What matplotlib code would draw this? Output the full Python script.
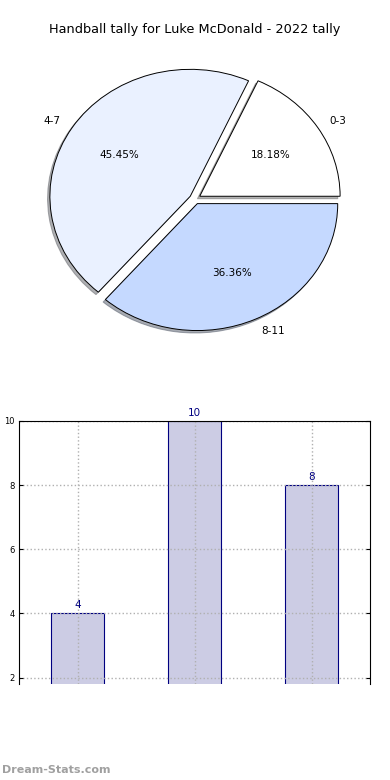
import matplotlib
matplotlib.use("Agg")
import matplotlib.pyplot as plt

pie_labels = ["0-3", "4-7", "8-11"]
pie_values = [2, 5, 4]
pie_colors = ["#ffffff", "#eaf1ff", "#c5d9ff"]

bar_categories = ["0-3", "4-7", "8-11"]
bar_values = [4, 10, 8]
yticks = [2, 4, 6, 8, 10]

W, H = 390, 780
fig = plt.figure(figsize=(W / 100, H / 100), dpi=100)

def ax_rect(x0, y0, x1, y1):
    return [x0 / W, 1 - y1 / H, (x1 - x0) / W, (y1 - y0) / H]

fig.text(0.5, 1 - 30 / H, "Handball tally for Luke McDonald - 2022 tally",
         ha="center", va="center", fontsize=9.3)

axp = fig.add_axes(ax_rect(49, 67, 341, 331))
wedges, texts, autotexts = axp.pie(
    pie_values, labels=pie_labels, colors=pie_colors, explode=[0.04, 0.04, 0.04],
    autopct="%.2f%%", shadow={"ox": -0.012, "oy": -0.014, "shade": 0.6}, startangle=0,
    wedgeprops=dict(edgecolor="black", linewidth=0.7),
    textprops=dict(fontsize=7.5))
axp.set_aspect("auto")
axp.set_xlim(-1.04, 1.04)
axp.set_ylim(-1.04, 1.04)

axb = fig.add_axes(ax_rect(19, 421, 370, 684))
x = list(range(len(bar_categories)))
axb.bar(x, bar_values, width=0.45, color="#ccccE4", edgecolor="#000080", linewidth=0.8, zorder=2)
for xi, v in zip(x, bar_values):
    axb.text(xi, v + 0.1, str(v), ha="center", va="bottom", color="#000080", fontsize=7.5, zorder=3)
axb.set_xlim(-0.5, 2.5)
axb.set_ylim(1.8, 10)
axb.set_yticks(yticks)
axb.set_xticks(x)
axb.set_xticklabels([])
axb.tick_params(axis="x", length=0)
axb.tick_params(axis="y", direction="in", labelsize=6, right=True, length=3, pad=3)
axb.set_axisbelow(False)
axb.grid(True, linestyle=":", color="#b0b0b0", linewidth=1)
axb.spines["bottom"].set_visible(False)
for sp in axb.spines.values():
    sp.set_zorder(4)
axb.set_ylabel("Handball tally", fontsize=6, labelpad=2)
axb.yaxis.set_label_coords(-0.062, 0.5)

fig.text(2 / W, 1 - 770 / H, "Dream-Stats.com", ha="left", va="center",
         fontsize=8, color="#a0a0a0", fontweight="bold")

fig.savefig("out.png", dpi=100)
